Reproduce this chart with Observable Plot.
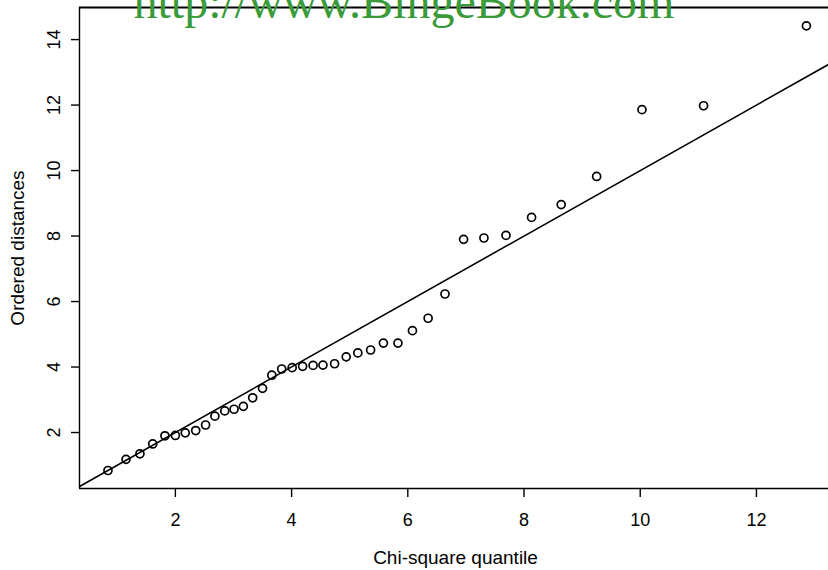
<!DOCTYPE html>
<html>
<head>
<meta charset="utf-8">
<script src="https://cdn.jsdelivr.net/npm/d3@7"></script>
<script src="https://cdn.jsdelivr.net/npm/@observablehq/plot@0.6"></script>
<style>
  html, body { margin: 0; padding: 0; background: #fff; }
  #chart svg { display: block; }
</style>
</head>
<body>
<div id="chart"></div>
<script>
// Chi-square quantiles (x) and ordered distances (y)
const chiQ = [0.84, 1.15, 1.39, 1.61, 1.82, 2.00, 2.17, 2.35, 2.52, 2.68, 2.85, 3.01, 3.17, 3.33, 3.50, 3.66, 3.83, 4.01, 4.19, 4.37, 4.54, 4.74, 4.94, 5.14, 5.36, 5.58, 5.83, 6.08, 6.35, 6.64, 6.96, 7.31, 7.69, 8.13, 8.64, 9.25, 10.03, 11.09, 12.86];
const dist = [0.84, 1.18, 1.35, 1.65, 1.90, 1.91, 1.99, 2.06, 2.23, 2.50, 2.66, 2.71, 2.80, 3.06, 3.35, 3.75, 3.94, 3.98, 4.02, 4.05, 4.06, 4.10, 4.31, 4.43, 4.52, 4.73, 4.73, 5.11, 5.49, 6.23, 7.90, 7.94, 8.02, 8.57, 8.96, 9.82, 11.86, 11.98, 14.42];
const xTicks = [2, 4, 6, 8, 10, 12];
const yTicks = [2, 4, 6, 8, 10, 12, 14];
const xLabel = "Chi-square quantile";
const yLabel = "Ordered distances";
const watermark = "http://www.BingeBook.com";

const xDomain = [0.35, 13.24];
const yDomain = [0.29, 14.98];

const points = chiQ.map((q, i) => ({q, d: dist[i]}));
const refLine = [{v: xDomain[0]}, {v: xDomain[1]}];

const sans = "'Liberation Sans', Arial, Helvetica, sans-serif";

const chart = Plot.plot({
  width: 828,
  height: 570,
  marginLeft: 79,
  marginRight: 0,
  marginTop: 7,
  marginBottom: 82,
  style: {fontFamily: sans, background: "#fff", color: "#000", overflow: "hidden"},
  x: {domain: xDomain},
  y: {domain: yDomain},
  marks: [
    // box (right side falls outside the picture)
    Plot.ruleY([yDomain[0]], {stroke: "#000", strokeWidth: 1.4}),
    Plot.ruleY([yDomain[1]], {stroke: "#000", strokeWidth: 1.8}),
    Plot.ruleX([xDomain[0]], {stroke: "#000", strokeWidth: 1.4}),
    // x axis
    Plot.axisX({ticks: xTicks, tickSize: 9, tickPadding: 16, fontSize: 18, strokeWidth: 1.4, label: null}),
    Plot.text([xLabel], {frameAnchor: "bottom", dy: 69, dx: 1.5, fontSize: 19, lineAnchor: "middle"}),
    // y axis
    Plot.axisY({ticks: yTicks, tickSize: 8, tickFormat: () => "", strokeWidth: 1.4, label: null}),
    Plot.text(yTicks, {y: d => d, text: d => String(d), frameAnchor: "left", dx: -25, rotate: -90, fontSize: 18, textAnchor: "middle", lineAnchor: "middle"}),
    Plot.text([yLabel], {frameAnchor: "left", dx: -62, rotate: -90, fontSize: 19, textAnchor: "middle", lineAnchor: "middle"}),
    // reference line y = x
    Plot.line(refLine, {x: "v", y: "v", stroke: "#000", strokeWidth: 1.6, clip: true}),
    // points
    Plot.dot(points, {x: "q", y: "d", r: 4, stroke: "#000", strokeWidth: 1.7, fill: "none"}),
    // watermark
    Plot.text([watermark], {frameAnchor: "top-left", dx: 54, dy: 10.5, textAnchor: "start", lineAnchor: "bottom", fontSize: 48, fontFamily: "'Liberation Serif', 'Times New Roman', serif", fill: "#3a9b3a"})
  ]
});
document.getElementById("chart").appendChild(chart);
</script>
</body>
</html>
